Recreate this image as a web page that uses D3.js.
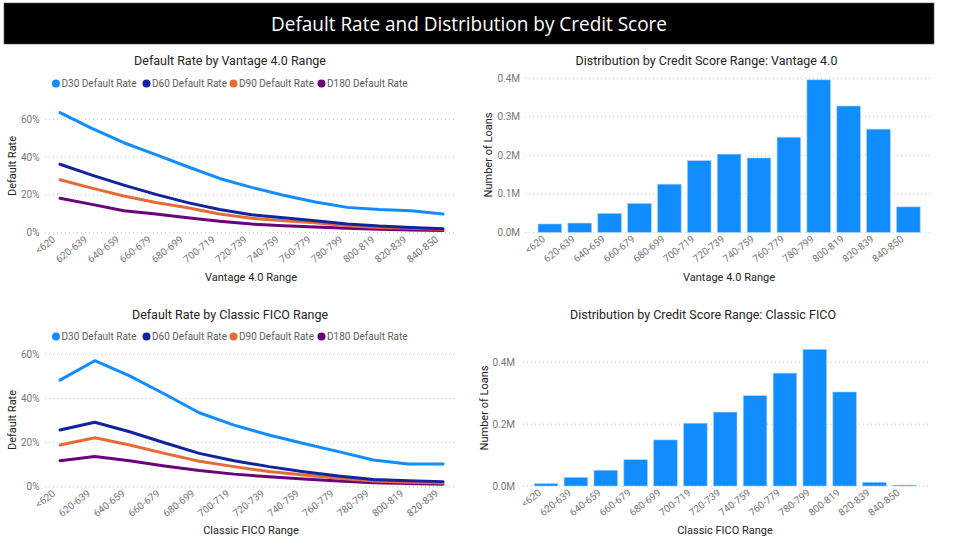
<!DOCTYPE html>
<html>
<head>
<meta charset="utf-8">
<script src="https://cdn.jsdelivr.net/npm/d3@7"></script>
<style>
html,body{margin:0;padding:0;background:#fff;}
svg{display:block;}
</style>
</head>
<body>
<svg id="chart" width="955" height="547"></svg>
<script>
// ---------------- DATA ----------------
const mainTitle = "Default Rate and Distribution by Credit Score";
const vantageCats = ["<620","620-639","640-659","660-679","680-699","700-719","720-739","740-759","760-779","780-799","800-819","820-839","840-850"];
const ficoLineCats = ["<620","620-639","640-659","660-679","680-699","700-719","720-739","740-759","760-779","780-799","800-819","820-839"];
const ficoBarCats = ["<620","620-639","640-659","660-679","680-699","700-719","720-739","740-759","760-779","780-799","800-819","820-839","840-850"];

const seriesNames = ["D30 Default Rate","D60 Default Rate","D90 Default Rate","D180 Default Rate"];
const seriesColors = ["#118DFF","#12239E","#E66C37","#6B007B"];

// Vantage 4.0 default rates (%)
const vantageD30  = [63.5,55.2,47.6,41.3,34.9,28.7,24.0,19.8,16.2,13.4,12.3,11.6,9.9];
const vantageD60  = [36.2,30.5,25.2,20.3,15.9,12.3,9.5,7.9,6.3,4.6,3.5,2.8,2.1];
const vantageD90  = [28.0,23.6,19.4,16.0,13.2,9.9,7.6,6.3,5.3,3.7,2.8,2.3,1.8];
const vantageD180 = [18.2,15.0,11.6,9.9,7.9,6.0,4.6,3.7,3.0,2.3,1.8,1.4,1.1];

// Classic FICO default rates (%)
const ficoD30  = [48.3,57.1,50.2,42.0,33.5,27.9,23.4,19.6,15.9,12.1,10.3,10.3];
const ficoD60  = [25.7,29.2,24.9,19.9,15.1,11.8,9.1,6.8,4.8,3.3,2.7,2.3];
const ficoD90  = [18.9,22.2,18.9,15.1,11.5,9.1,6.9,5.3,3.8,2.6,2.0,1.7];
const ficoD180 = [11.8,13.7,11.8,9.4,7.3,5.7,4.5,3.5,2.6,1.8,1.4,1.1];

// Number of loans
const vantageLoans = [21600,24000,49000,75000,125000,186000,203000,193000,247000,396000,328000,268000,66000];
const ficoLoans    = [7500,28000,51000,85000,149000,203000,239000,292000,365000,442000,304000,12000,3000];

const pctTicks = [0,20,40,60];
const vantageLoanTicks = [0,100000,200000,300000,400000];
const ficoLoanTicks = [0,200000,400000];

// ---------------- DRAW ----------------
const svg = d3.select("#chart");
const TITLE_FONT = "Roboto, 'Noto Sans', sans-serif";
const TEXT_FONT = "'Open Sans', 'Noto Sans', sans-serif";
const GRAY = "#777";
const DARK = "#252423";

// header
svg.append("rect").attr("x",4).attr("y",3).attr("width",930).attr("height",41)
  .attr("fill","#000").attr("stroke","#555").attr("stroke-width",0.6);
svg.append("text").attr("x",469).attr("y",30.5).attr("text-anchor","middle")
  .attr("fill","#fff").attr("font-family","'Open Sans', sans-serif").attr("font-size",19.5)
  .attr("textLength",396).attr("lengthAdjust","spacingAndGlyphs")
  .text(mainTitle);

function gridAndY(g, y, ticks, x0, x1, fmt, labelX){
  ticks.forEach(t=>{
    g.append("line").attr("x1",x0).attr("x2",x1).attr("y1",y(t)).attr("y2",y(t))
      .attr("stroke","#c8c8c8").attr("stroke-width",1).attr("stroke-dasharray","1,3");
    g.append("text").attr("x",labelX).attr("y",y(t)+3.5).attr("text-anchor","end")
      .attr("fill",GRAY).attr("font-family",TITLE_FONT).attr("font-size",10).text(fmt(t));
  });
}

function xLabels(g, cats, xpos, yAxis){
  cats.forEach(c=>{
    const px = xpos(c) - 4, py = yAxis + 8;
    g.append("text").attr("transform",`translate(${px},${py}) rotate(-38)`)
      .attr("text-anchor","end").attr("fill",GRAY).attr("font-family",TITLE_FONT)
      .attr("font-size",10).text(c);
  });
}

function titles(g, o){
  g.append("text").attr("x",o.titleX).attr("y",o.titleY).attr("text-anchor","middle")
    .attr("fill",DARK).attr("font-family",TITLE_FONT).attr("font-size",12.5).text(o.title);
  g.append("text").attr("transform",`translate(${o.yLabX},${o.yLabY}) rotate(-90)`)
    .attr("text-anchor","middle").attr("fill",DARK).attr("font-family",TITLE_FONT)
    .attr("font-size",11).text(o.yLab);
  g.append("text").attr("x",o.xLabX).attr("y",o.xLabY).attr("text-anchor","middle")
    .attr("fill",DARK).attr("font-family",TITLE_FONT).attr("font-size",11).text(o.xLab);
}

function lineChart(o){
  const g = svg.append("g");
  titles(g,o);
  // legend
  const legX = [56,146.5,233.5,321.5];
  seriesNames.forEach((n,i)=>{
    g.append("circle").attr("cx",legX[i]).attr("cy",o.legY).attr("r",4).attr("fill",seriesColors[i]);
    g.append("text").attr("x",legX[i]+5.5).attr("y",o.legY+3.5).attr("fill","#605E5C")
      .attr("font-family",TITLE_FONT).attr("font-size",10).text(n);
  });
  const x = d3.scalePoint().domain(o.cats).range([60,443]);
  const y = d3.scaleLinear().domain([0,60]).range([o.y0,o.y60]);
  gridAndY(g,y,pctTicks,45,455,d=>d+"%",39.5);
  xLabels(g,o.cats,x,o.y0);
  const line = d3.line().x((d,i)=>x(o.cats[i])).y(d=>y(d));
  o.series.slice().reverse().forEach((s,ri)=>{
    const i = o.series.length-1-ri;
    g.append("path").attr("d",line(s)).attr("fill","none").attr("stroke",seriesColors[i])
      .attr("stroke-width",3).attr("stroke-linejoin","round").attr("stroke-linecap","round");
  });
}

function barChart(o){
  const g = svg.append("g");
  titles(g,o);
  const x = d3.scaleBand().domain(o.cats).range(o.bandRange).paddingInner(0.21).paddingOuter(0.105);
  const y = d3.scaleLinear().domain([0,400000]).range([o.y0,o.y4]);
  gridAndY(g,y,o.ticks,o.gx0,o.gx1,d=>(d/1e6).toFixed(1)+"M",o.tickX);
  g.selectAll("rect.bar").data(o.values).enter().append("rect")
    .attr("x",(d,i)=>x(o.cats[i])).attr("width",x.bandwidth())
    .attr("y",d=>y(d)).attr("height",d=>o.y0-y(d))
    .attr("fill","#118DFF").attr("stroke","#9fd0ff").attr("stroke-width",0.6);
  xLabels(g,o.cats,d=>x(d)+x.bandwidth()/2,o.y0);
}

lineChart({
  title:"Default Rate by Vantage 4.0 Range", titleX:230, titleY:65,
  yLab:"Default Rate", yLabX:16, yLabY:166,
  xLab:"Vantage 4.0 Range", xLabX:251, xLabY:281,
  legY:83.5, cats:vantageCats, y0:232.7, y60:119.3,
  series:[vantageD30,vantageD60,vantageD90,vantageD180]
});
lineChart({
  title:"Default Rate by Classic FICO Range", titleX:230, titleY:319,
  yLab:"Default Rate", yLabX:16, yLabY:420,
  xLab:"Classic FICO Range", xLabX:251, xLabY:534,
  legY:336.5, cats:ficoLineCats, y0:486.7, y60:354.3,
  series:[ficoD30,ficoD60,ficoD90,ficoD180]
});
barChart({
  title:"Distribution by Credit Score Range: Vantage 4.0", titleX:706.5, titleY:65,
  yLab:"Number of Loans", yLabX:492, yLabY:155,
  xLab:"Vantage 4.0 Range", xLabX:729, xLabY:281,
  cats:vantageCats, values:vantageLoans, bandRange:[534.9,923.3],
  y0:232.3, y4:78.3, ticks:vantageLoanTicks, gx0:525, gx1:932, tickX:520
});
barChart({
  title:"Distribution by Credit Score Range: Classic FICO", titleX:703, titleY:319,
  yLab:"Number of Loans", yLabX:488, yLabY:408,
  xLab:"Classic FICO Range", xLabX:725, xLabY:534,
  cats:ficoBarCats, values:ficoLoans, bandRange:[531.1,919.3],
  y0:486, y4:362.3, ticks:ficoLoanTicks, gx0:523, gx1:928, tickX:515
});
</script>
</body>
</html>
